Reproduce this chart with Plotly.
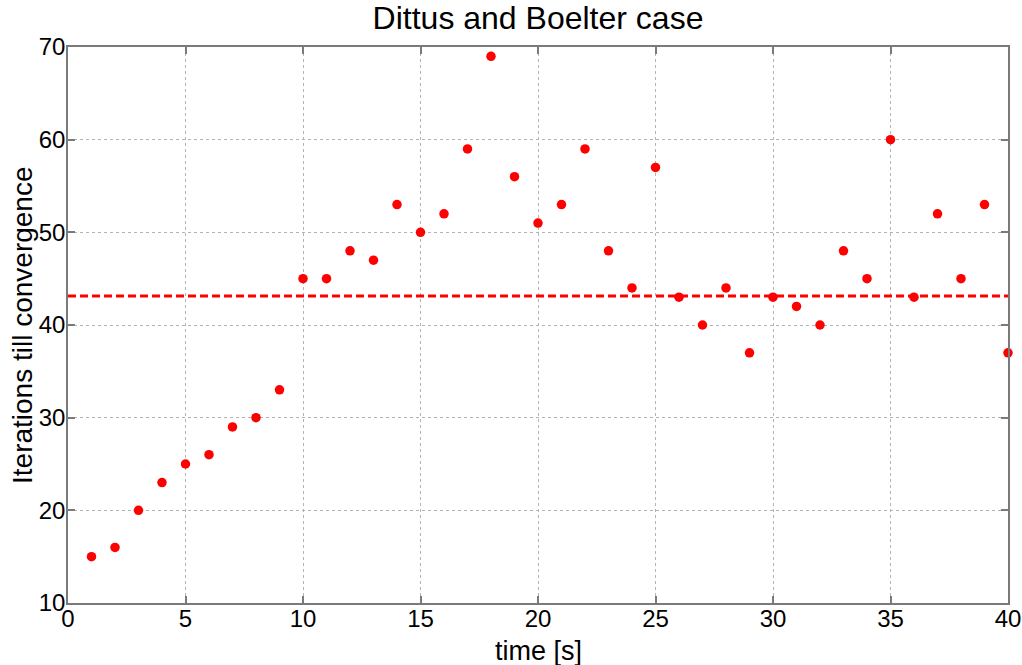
import plotly.graph_objects as go

time_s = list(range(1, 41))
iterations = [15, 16, 20, 23, 25, 26, 29, 30, 33, 45,
              45, 48, 47, 53, 50, 52, 59, 69, 56, 51,
              53, 59, 48, 44, 57, 43, 40, 44, 37, 43,
              42, 40, 48, 45, 60, 43, 52, 45, 53, 37]
mean_val = sum(iterations) / len(iterations)
mean_x = [0, 40]
mean_y = [mean_val, mean_val]

FONT = "Liberation Sans, Arial, Helvetica"

fig = go.Figure()
fig.add_trace(go.Scatter(x=mean_x, y=mean_y, mode="lines",
                         line=dict(color="#ff0000", width=3, dash="8px,4px"),
                         showlegend=False, hoverinfo="skip", cliponaxis=False))
fig.add_trace(go.Scatter(x=time_s, y=iterations, mode="markers",
                         marker=dict(color="#ff0000", size=9.5, symbol="circle"),
                         showlegend=False, cliponaxis=False))

axis_common = dict(
    showline=True, linecolor="#7a7a7a", linewidth=1.5, mirror="ticks",
    ticks="inside", ticklen=7, tickcolor="#7a7a7a", tickwidth=1.5,
    showgrid=True, gridcolor="#b4b4b4", griddash="dot", gridwidth=1,
    zeroline=False, automargin=False,
    tickfont=dict(family=FONT, size=24, color="#000"),
)

fig.update_layout(
    width=1022, height=665,
    margin=dict(l=68, r=14, t=47, b=62),
    paper_bgcolor="white", plot_bgcolor="white",
    title=dict(text="Dittus and Boelter case", x=538 / 1022, xanchor="center",
               xref="container",
               y=1 - 18 / 665, yanchor="middle",
               font=dict(family=FONT, size=32, color="#000")),
    xaxis=dict(range=[0, 40], dtick=5, tick0=0, ticklabelstandoff=-7, **axis_common),
    yaxis=dict(range=[10, 70], dtick=10, tick0=10, ticklabelstandoff=-4, **axis_common),
    annotations=[
        dict(text="time [s]", xref="paper", yref="paper", x=0.5, y=0,
             xanchor="center", yanchor="middle", yshift=-48, showarrow=False,
             font=dict(family=FONT, size=27, color="#000")),
        dict(text="Iterations till convergence", xref="paper", yref="paper",
             x=0, y=0.5, xanchor="center", yanchor="middle", xshift=-46,
             textangle=-90, showarrow=False,
             font=dict(family=FONT, size=28, color="#000")),
    ],
)

fig.write_html("out.html")
